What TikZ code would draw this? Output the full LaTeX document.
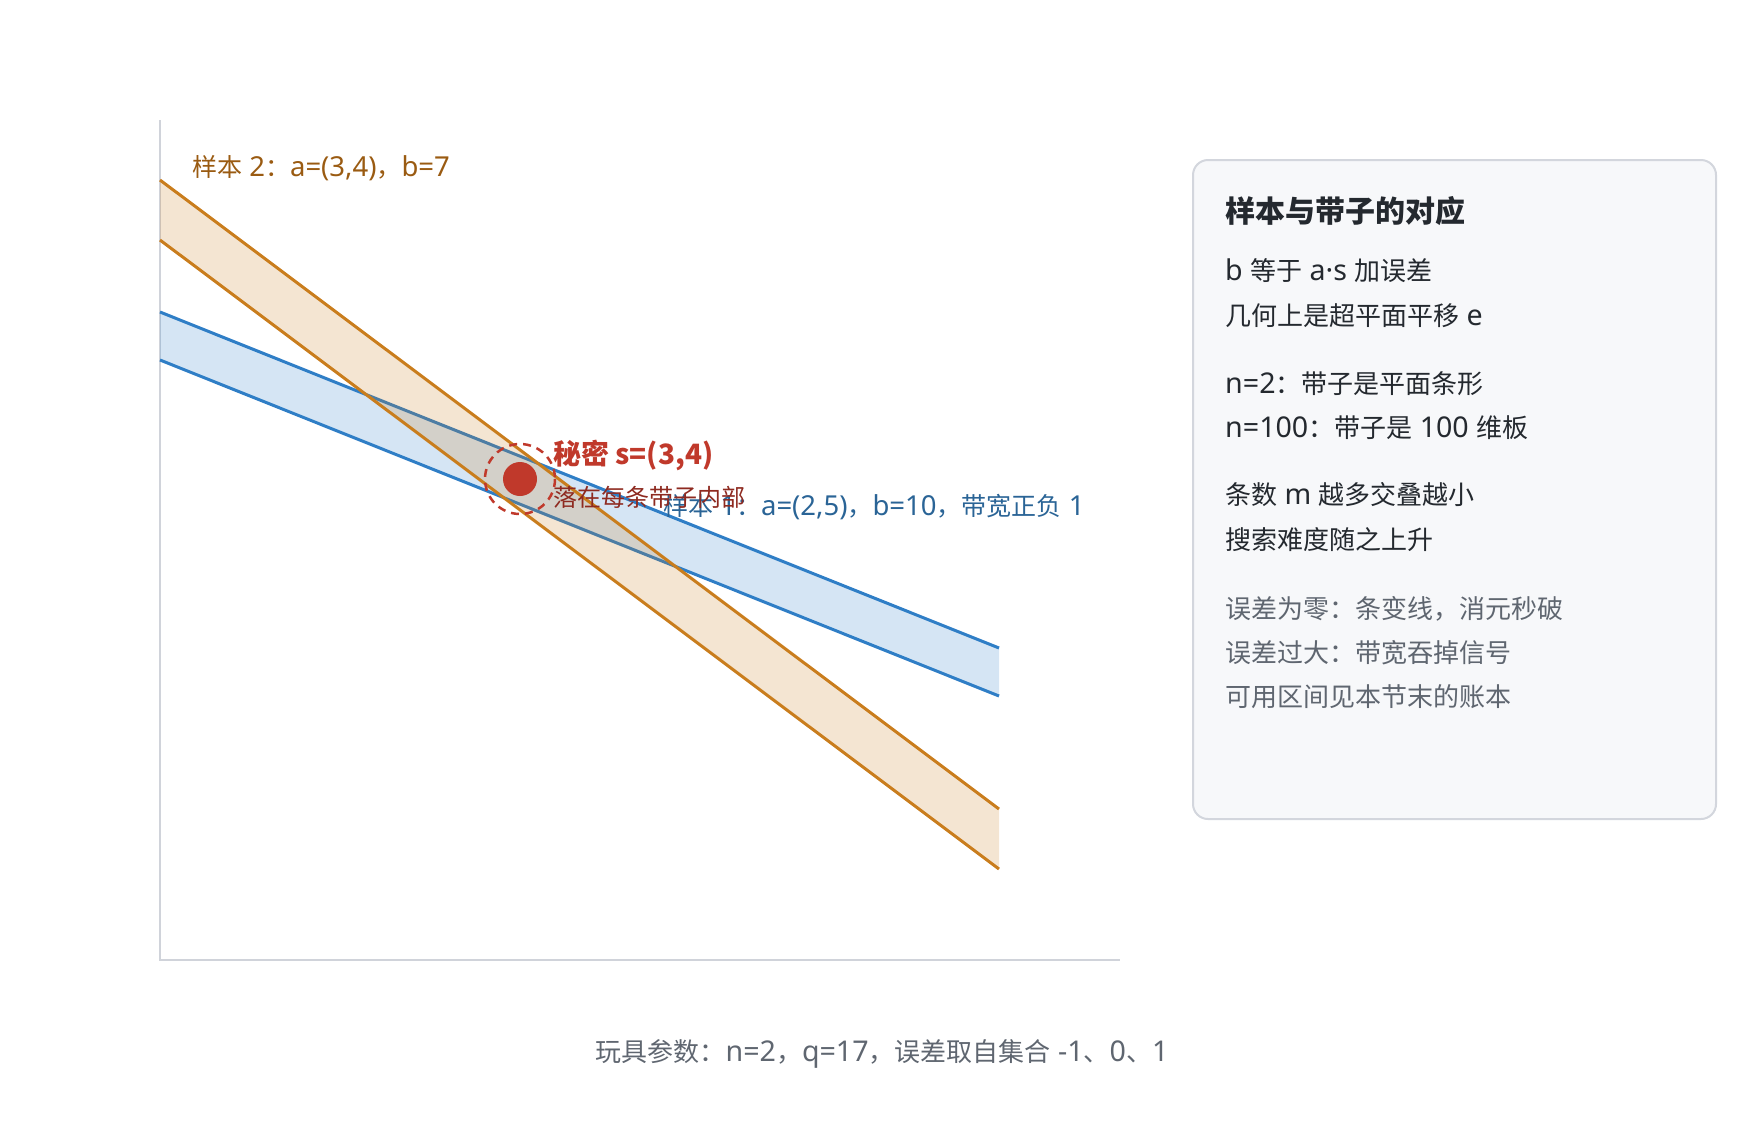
\documentclass[tikz,border=0pt]{standalone}
\usepackage{fontspec}
\setmainfont{Noto Sans CJK SC}
\newfontfamily\latfont{Noto Sans}[Scale=1.1]
\newcommand\lat[1]{{\latfont #1}}
\definecolor{blueline}{HTML}{2F7EC6}
\definecolor{orangeline}{HTML}{C97D1D}
\definecolor{secretred}{HTML}{C0392B}
\definecolor{darkred}{HTML}{8E2A20}
\definecolor{bluetext}{HTML}{2A6496}
\definecolor{browntext}{HTML}{9A5B12}
\definecolor{axisgray}{HTML}{D0D3DA}
\definecolor{panelfill}{HTML}{F7F8FA}
\definecolor{panelborder}{HTML}{D3D6DD}
\definecolor{textdark}{HTML}{24292F}
\definecolor{textgray}{HTML}{5F6670}
\begin{document}
\begin{tikzpicture}[x=1pt,y=-1pt,
  lbl/.style={inner sep=0pt,anchor=west},
  body/.style={lbl,text=textdark,font=\fontsize{26}{30}\selectfont},
  note/.style={lbl,text=textgray,font=\fontsize{26}{30}\selectfont},
  axisline/.style={draw=axisgray,line width=2pt},
  bandline/.style={line width=3pt}
]
\useasboundingbox (0,0) rectangle (1760,1120);
% axes
\coordinate (ytop) at (160,120);
\coordinate (orig) at (160,960);
\coordinate (xend) at (1120,960);
\draw[axisline] (ytop) -- (orig) -- (xend);
% blue band
\coordinate (b1) at (160,312);
\coordinate (b2) at (999,648);
\coordinate (b3) at (999,696);
\coordinate (b4) at (160,360);
\fill[blueline,fill opacity=0.2] (b1) -- (b2) -- (b3) -- (b4) -- cycle;
\draw[blueline,bandline] (b1) -- (b2);
\draw[blueline,bandline] (b4) -- (b3);
% orange band
\coordinate (o1) at (160,180);
\coordinate (o2) at (999,809);
\coordinate (o3) at (999,869);
\coordinate (o4) at (160,240);
\fill[orangeline,fill opacity=0.2] (o1) -- (o2) -- (o3) -- (o4) -- cycle;
\draw[orangeline,bandline] (o1) -- (o2);
\draw[orangeline,bandline] (o4) -- (o3);
% secret
\coordinate (s) at (520,479);
\draw[secretred,line width=2.5pt,dash pattern=on 8pt off 6pt] (s) circle[radius=35];
\fill[secretred] (s) circle[radius=17];
% labels
\node[lbl,text=browntext,font=\fontsize{25}{29}\selectfont] (lab2) at (192,168) {样本\lat{ 2}：\lat{a=(3,4)}，\lat{b=7}};
\node[lbl,text=secretred,font=\fontsize{28}{32}\selectfont\bfseries] (secret) at (553,455) {秘密 s=(3,4)};
\node[lbl,text=bluetext,font=\fontsize{25}{29}\selectfont] (lab1) at (663,507) {样本\lat{ 1}：\lat{a=(2,5)}，\lat{b=10}，带宽正负\lat{ 1}};
\node[lbl,text=darkred,font=\fontsize{24}{28}\selectfont] (inside) at (553,497) {落在每条带子内部};
% panel
\draw[panelborder,fill=panelfill,line width=2pt,rounded corners=15pt] (1193,160) rectangle (1716,819);
\node[lbl,text=textdark,font=\fontsize{30}{34}\selectfont\bfseries] (ptitle) at (1225,211) {样本与带子的对应};
\node[body] (p1) at (1225,271) {\lat{b }等于\lat{ a·s }加误差};
\node[body] (p2) at (1225,316) {几何上是超平面平移\lat{ e}};
\node[body] (p3) at (1225,384) {\lat{n=2}：带子是平面条形};
\node[body] (p4) at (1225,428) {\lat{n=100}：带子是\lat{ 100 }维板};
\node[body] (p5) at (1225,495) {条数\lat{ m }越多交叠越小};
\node[body] (p6) at (1225,540) {搜索难度随之上升};
\node[note] (p7) at (1225,609) {误差为零：条变线，消元秒破};
\node[note] (p8) at (1225,653) {误差过大：带宽吞掉信号};
\node[note] (p9) at (1225,697) {可用区间见本节末的账本};
% caption
\node[inner sep=0pt,text=textgray,font=\fontsize{26}{30}\selectfont] (cap) at (882,1054) {玩具参数：\lat{n=2}，\lat{q=17}，误差取自集合\lat{ -1}、\lat{0}、\lat{1}};
\end{tikzpicture}
\end{document}
